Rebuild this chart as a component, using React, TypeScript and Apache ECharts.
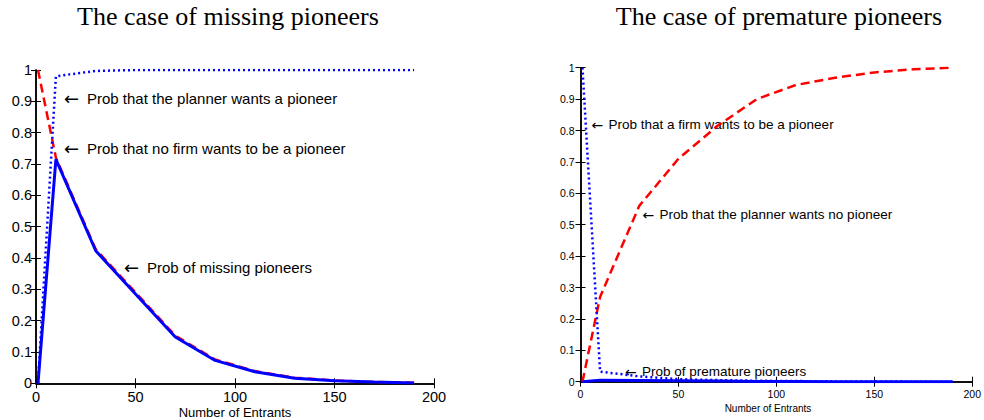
import React, { useEffect, useRef } from "react";
import * as echarts from "echarts";

// Number of entrants at which the probabilities were evaluated
const entrants = [1, 10, 30, 50, 70, 90, 110, 130, 150, 170, 190];

// The case of missing pioneers
const noFirmWantsPioneer = [1, 0.72, 0.428, 0.29, 0.152, 0.076, 0.039, 0.018, 0.009, 0.004, 0.002];
const plannerWantsPioneer = [0, 0.98, 0.997, 1, 1, 1, 1, 1, 1, 1, 1];
const missingPioneers = [0, 0.715, 0.423, 0.285, 0.148, 0.073, 0.037, 0.016, 0.008, 0.004, 0.001];

// The case of premature pioneers
const plannerWantsNoPioneer = [0, 0.27, 0.56, 0.71, 0.815, 0.9, 0.945, 0.968, 0.985, 0.995, 1.0];
const firmWantsPioneer = [1, 0.032, 0.017, 0.008, 0.005, 0.003, 0.002, 0.001, 0.001, 0, 0];
const prematurePioneers = [0, 0.005, 0.004, 0.003, 0.002, 0.001, 0.001, 0, 0, 0, 0];

const titles = ["The case of missing pioneers", "The case of premature pioneers"];
const xName = "Number of Entrants";

const pairs = (ys: number[]) => entrants.map((x, i) => [x, ys[i]]);

const SANS = '"Liberation Sans", Arial, sans-serif';
const ARROW_FONT = '"DejaVu Sans", sans-serif';
const SERIF = '"Liberation Serif", "Times New Roman", serif';

const RED = "#ff0000";
const BLUE = "#0000ff";

function axesFor(gridIndex: number, tickFont: number, xMargin: number, yMargin: number) {
  const line = { show: true, lineStyle: { color: "#000", width: 1.5 } };
  const tick = { show: true, inside: true, length: 5, lineStyle: { color: "#000", width: 1 } };
  const xBase = { type: "value", gridIndex, min: 0, max: 200, interval: 50, splitLine: { show: false }, axisLine: line, axisTick: tick };
  const yBase = { type: "value", gridIndex, min: 0, max: 1, interval: 0.1, splitLine: { show: false }, axisLine: line, axisTick: tick };
  return {
    x: [
      {
        ...xBase,
        position: "bottom",
        axisLabel: { color: "#000", fontSize: tickFont, fontFamily: SANS, margin: xMargin },
      },
      { ...xBase, position: "top", axisLabel: { show: false } },
    ],
    y: [
      {
        ...yBase,
        position: "left",
        axisLabel: {
          color: "#000",
          fontSize: tickFont,
          fontFamily: SANS,
          margin: yMargin,
          formatter: (v: number) => String(+v.toFixed(1)),
        },
      },
      { ...yBase, position: "right", axisLabel: { show: false } },
    ],
  };
}

function lines(xi: number, yi: number, red: number[], dotted: number[], solid: number[]) {
  const common = { type: "line", xAxisIndex: xi, yAxisIndex: yi, symbol: "none", silent: true };
  return [
    { ...common, data: pairs(red), lineStyle: { color: RED, width: 2.5, type: [9, 5] } },
    { ...common, data: pairs(dotted), lineStyle: { color: BLUE, width: 2.5, type: [2, 3] } },
    { ...common, data: pairs(solid), lineStyle: { color: BLUE, width: 3 } },
  ];
}

// An arrow pointing left at a curve, followed by its caption
function note(x: number, y: number, text: string, size: number, arrowSize: number, gap: number) {
  return [
    { type: "text", x, y, style: { text: "\u2190", font: `${arrowSize}px ${ARROW_FONT}`, fill: "#000", verticalAlign: "middle" } },
    { type: "text", x: x + gap, y, style: { text, font: `${size}px ${SANS}`, fill: "#000", verticalAlign: "middle" } },
  ];
}

export default function App() {
  const ref = useRef<HTMLDivElement>(null);

  useEffect(() => {
    if (!ref.current) return;
    const chart = echarts.init(ref.current, undefined, { renderer: "svg" });
    const a = axesFor(0, 14.5, 6, 4);
    const b = axesFor(1, 10.5, 7, 6);

    chart.setOption({
      animation: false,
      grid: [
        { left: 36, top: 70, width: 398, height: 313.3 },
        { left: 580.5, top: 67.7, width: 397.5, height: 314 },
      ],
      xAxis: [...a.x, ...b.x].map((ax, i) => ({ ...ax, gridIndex: i < 2 ? 0 : 1 })),
      yAxis: [...a.y, ...b.y].map((ax, i) => ({ ...ax, gridIndex: i < 2 ? 0 : 1 })),
      series: [
        ...lines(0, 0, noFirmWantsPioneer, plannerWantsPioneer, missingPioneers),
        ...lines(2, 2, plannerWantsNoPioneer, firmWantsPioneer, prematurePioneers),
      ],
      graphic: [
        { type: "text", x: 228, y: 16, style: { text: titles[0], font: `26px ${SERIF}`, fill: "#000", align: "center", verticalAlign: "middle" } },
        { type: "text", x: 779, y: 16, style: { text: titles[1], font: `26px ${SERIF}`, fill: "#000", align: "center", verticalAlign: "middle" } },
        { type: "text", x: 235, y: 412, style: { text: xName, font: `13px ${SANS}`, fill: "#000", align: "center", verticalAlign: "middle" } },
        { type: "text", x: 768, y: 408, style: { text: xName, font: `10px ${SANS}`, fill: "#000", align: "center", verticalAlign: "middle" } },
        ...note(64, 98.5, "Prob that the planner wants a pioneer", 15, 18, 23),
        ...note(64, 148, "Prob that no firm wants to be a pioneer", 15, 18, 23),
        ...note(124, 267.5, "Prob of missing pioneers", 15, 18, 23),
        ...note(591.5, 124.5, "Prob that a firm wants to be a pioneer", 13.5, 14, 17),
        ...note(642.5, 214.5, "Prob that the planner wants no pioneer", 13.5, 14, 17),
        ...note(625, 371.5, "Prob of premature pioneers", 13.5, 14, 17),
      ],
    });
    return () => chart.dispose();
  }, []);

  return (
    <div
      ref={ref}
      style={{ position: "absolute", left: 0, top: 0, width: 984, height: 420, background: "#fff" }}
    />
  );
}
